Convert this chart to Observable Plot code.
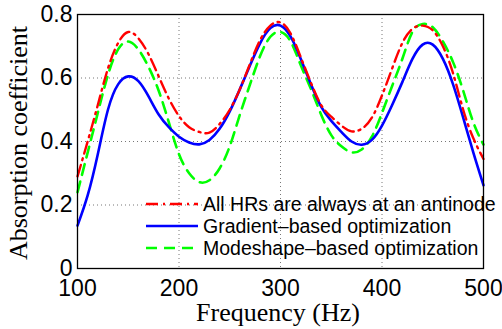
<!DOCTYPE html>
<html>
<head>
<meta charset="utf-8">
<script src="https://cdn.jsdelivr.net/npm/d3@7"></script>
<script src="https://cdn.jsdelivr.net/npm/@observablehq/plot@0.6"></script>
<style>
  html, body { margin: 0; padding: 0; background: #fff; }
  #chart { position: relative; width: 502px; height: 329px; }
</style>
</head>
<body>
<div id="chart"></div>
<script>
const freq = d3.range(100, 501, 10);
const seriesNames = ["All HRs are always at an antinode", "Gradient\u2013based optimization", "Modeshape\u2013based optimization"];
const allAntinode = [0.29,0.40,0.515,0.63,0.71,0.745,0.725,0.675,0.605,0.535,0.48,0.445,0.43,0.428,0.455,0.50,0.565,0.645,0.72,0.765,0.775,0.74,0.665,0.585,0.515,0.478,0.45,0.432,0.44,0.475,0.545,0.63,0.71,0.755,0.765,0.75,0.70,0.615,0.50,0.41,0.345];
const gradient = [0.135,0.23,0.36,0.50,0.58,0.605,0.59,0.542,0.485,0.445,0.415,0.397,0.391,0.405,0.44,0.495,0.565,0.64,0.71,0.757,0.765,0.73,0.66,0.58,0.51,0.465,0.43,0.40,0.39,0.405,0.45,0.515,0.587,0.66,0.705,0.705,0.66,0.58,0.475,0.365,0.262];
const modeshape = [0.24,0.365,0.49,0.61,0.69,0.715,0.69,0.635,0.56,0.46,0.36,0.30,0.272,0.278,0.315,0.385,0.485,0.58,0.67,0.73,0.745,0.715,0.64,0.565,0.485,0.42,0.385,0.366,0.375,0.415,0.49,0.575,0.66,0.745,0.77,0.76,0.715,0.65,0.56,0.46,0.39];
const xTicks = [100, 200, 300, 400, 500];
const yTicks = [0, 0.2, 0.4, 0.6, 0.8];
const xLabel = "Frequency (Hz)";
const yLabel = "Absorption coefficient";
const colors = ["#ff0000", "#0000ff", "#00ff00"];
const dashes = ["12,5,2,5", null, "11,7"];

const rows = (vals, i) => freq.map((f, j) => ({f, v: vals[j], s: seriesNames[i]}));
const data = [rows(allAntinode, 0), rows(gradient, 1), rows(modeshape, 2)];

const sans = "Liberation Sans, Arial, Helvetica, sans-serif";
const serif = "Liberation Serif, Times New Roman, serif";

const mL = 77, mR = 19, mT = 14, mB = 61, W = 502, H = 329;

const plot = Plot.plot({
  width: W,
  height: H,
  marginLeft: mL,
  marginRight: mR,
  marginTop: mT,
  marginBottom: mB,
  style: {background: "#fff", overflow: "visible"},
  x: {domain: [100, 500], ticks: xTicks},
  y: {domain: [0, 0.8], ticks: yTicks},
  marks: [
    Plot.gridX(xTicks, {stroke: "#777", strokeOpacity: 1, strokeDasharray: "1,3", strokeWidth: 1}),
    Plot.gridY(yTicks, {stroke: "#777", strokeOpacity: 1, strokeDasharray: "1,3", strokeWidth: 1}),
    Plot.axisX(xTicks, {tickSize: 0, tickPadding: 11, fontSize: 23, fontFamily: sans, fill: "#000", label: null, tickFormat: d => String(d)}),
    Plot.axisY(yTicks, {tickSize: 0, tickPadding: 5, fontSize: 23, fontFamily: sans, fill: "#000", label: null, tickFormat: d => d === 0 ? "0" : d3.format(".1f")(d)}),
    Plot.line(data[2], {x: "f", y: "v", stroke: colors[2], strokeWidth: 2.6, strokeDasharray: dashes[2], curve: "natural"}),
    Plot.line(data[1], {x: "f", y: "v", stroke: colors[1], strokeWidth: 2.6, curve: "natural"}),
    Plot.line(data[0], {x: "f", y: "v", stroke: colors[0], strokeWidth: 2.4, strokeDasharray: dashes[0], curve: "natural"}),
    Plot.frame({stroke: "#000", strokeWidth: 1.3})
  ]
});
document.getElementById("chart").appendChild(plot);

const svg = d3.select(plot);

// Axis titles
svg.append("text")
  .attr("transform", `translate(27,${mT + (H - mT - mB) / 2 + 2}) rotate(-90)`)
  .attr("text-anchor", "middle")
  .attr("font-family", serif).attr("font-size", 26).attr("fill", "#000")
  .text(yLabel);
svg.append("text")
  .attr("x", mL + (W - mL - mR) / 2 - 2).attr("y", 321)
  .attr("text-anchor", "middle")
  .attr("font-family", serif).attr("font-size", 26).attr("fill", "#000")
  .text(xLabel);

// Legend overlay (transparent, no border), inside lower right of the plot
const lg = svg.append("g").attr("transform", "translate(146,204)");
seriesNames.forEach((name, i) => {
  const g = lg.append("g").attr("transform", `translate(0,${i * 22})`);
  g.append("line").attr("x1", 0).attr("x2", 52).attr("y1", 0).attr("y2", 0)
    .attr("stroke", colors[i]).attr("stroke-width", 2.6)
    .attr("stroke-dasharray", dashes[i]);
  g.append("text").attr("x", 57).attr("y", 0).attr("dy", "0.35em")
    .attr("text-anchor", "start")
    .attr("font-family", sans).attr("font-size", 19.5).attr("fill", "#000")
    .text(name);
});
</script>
</body>
</html>
